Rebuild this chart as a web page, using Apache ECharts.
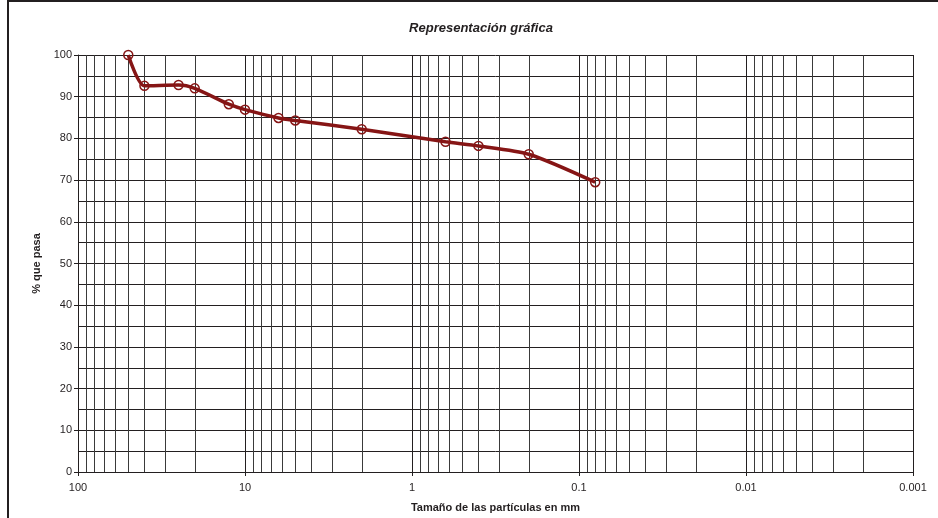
<!DOCTYPE html>
<html>
<head>
<meta charset="utf-8">
<script src="https://cdn.jsdelivr.net/npm/echarts@6/dist/echarts.min.js"></script>
<style>
  html, body { margin: 0; padding: 0; background: #fff; }
  #chart { width: 938px; height: 518px; }
</style>
</head>
<body>
<div id="chart"></div>
<script>
// sieve sizes (mm) and percent passing
var sizes = [50, 40, 25, 20, 12.5, 10, 6.3, 5, 2, 0.63, 0.4, 0.2, 0.08];
var passing = [100, 92.6, 92.8, 92, 88.2, 86.9, 84.9, 84.3, 82.2, 79.2, 78.2, 76.2, 69.5];

var decades = [0.001, 0.01, 0.1, 1, 10];
var multipliers = [2, 3, 4, 5, 6, 7, 8, 9];

var chartDom = document.getElementById('chart');
var myChart = echarts.init(chartDom);
var option;

var fontFam = '"Liberation Sans", Arial, sans-serif';

// minor vertical grid lines for the log axis (2..9 in each decade)
var minorLines = [];
decades.forEach(function (d) {
  multipliers.forEach(function (m) {
    minorLines.push([parseFloat((m * d).toPrecision(3))]);
  });
});

var lineData = sizes.map(function (s, i) { return [s, passing[i]]; });

option = {
  animation: false,
  backgroundColor: '#fff',
  title: {
    text: 'Representación gráfica',
    left: 476,
    textAlign: 'center',
    top: 17,
    textStyle: {
      fontFamily: fontFam,
      fontSize: 13,
      fontStyle: 'italic',
      fontWeight: 'bold',
      color: '#231f20'
    }
  },
  graphic: [
    { type: 'rect', shape: { x: 7, y: 0, width: 940, height: 2 }, style: { fill: '#231f20' } },
    { type: 'rect', shape: { x: 7, y: 0, width: 2, height: 518 }, style: { fill: '#231f20' } }
  ],
  grid: {
    left: 78,
    right: 25,
    top: 55,
    bottom: 46
  },
  xAxis: {
    type: 'log',
    logBase: 10,
    min: 0.001,
    max: 100,
    inverse: true,
    name: 'Tamaño de las partículas en mm',
    nameLocation: 'middle',
    nameGap: 30,
    nameTextStyle: {
      fontFamily: fontFam,
      fontSize: 11,
      fontWeight: 'bold',
      color: '#231f20'
    },
    axisLine: { show: true, lineStyle: { color: '#231f20', width: 1 } },
    axisTick: { show: true, length: 4, lineStyle: { color: '#231f20' } },
    axisLabel: {
      fontFamily: fontFam,
      fontSize: 11,
      color: '#231f20',
      margin: 10,
      formatter: function (v) { return String(parseFloat(v.toPrecision(3))); }
    },
    splitLine: { show: true, lineStyle: { color: '#231f20', width: 1 } }
  },
  yAxis: {
    type: 'value',
    min: 0,
    max: 100,
    interval: 10,
    name: '% que pasa',
    nameLocation: 'middle',
    nameGap: 36,
    nameTextStyle: {
      fontFamily: fontFam,
      fontSize: 11,
      fontWeight: 'bold',
      color: '#231f20'
    },
    axisLine: { show: true, lineStyle: { color: '#231f20', width: 1 } },
    axisTick: { show: true, length: 4, lineStyle: { color: '#231f20' } },
    axisLabel: {
      fontFamily: fontFam,
      fontSize: 11,
      color: '#231f20',
      margin: 6
    },
    splitLine: { show: true, lineStyle: { color: '#231f20', width: 1 } },
    minorTick: { show: false, splitNumber: 2 },
    minorSplitLine: { show: true, lineStyle: { color: '#231f20', width: 1 } }
  },
  series: [
    {
      name: 'grid',
      type: 'custom',
      silent: true,
      z: 1,
      data: minorLines,
      encode: { x: 0 },
      renderItem: function (params, api) {
        var v = api.value(0);
        var p1 = api.coord([v, 0]);
        var p2 = api.coord([v, 100]);
        return {
          type: 'line',
          shape: { x1: Math.round(p1[0]) + 0.5, y1: p1[1], x2: Math.round(p1[0]) + 0.5, y2: p2[1] },
          style: { stroke: '#3a3a3a', lineWidth: 1 }
        };
      }
    },
    {
      name: '% que pasa',
      type: 'line',
      data: lineData,
      smooth: 0.25,
      z: 5,
      symbol: 'circle',
      symbolSize: 9,
      lineStyle: { color: '#861515', width: 3.5 },
      itemStyle: {
        color: 'rgba(255,255,255,0)',
        borderColor: '#861515',
        borderWidth: 1.5
      }
    }
  ]
};

option && myChart.setOption(option);
</script>
</body>
</html>
